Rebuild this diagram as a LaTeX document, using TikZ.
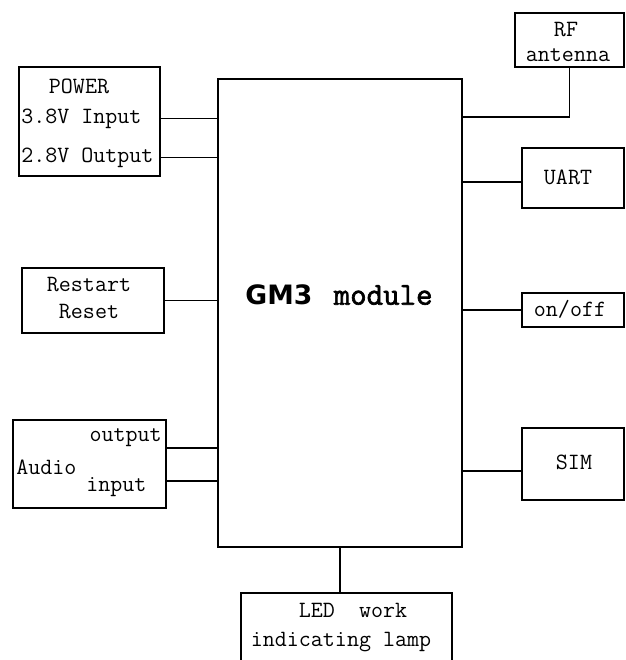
\documentclass[tikz,border=0pt]{standalone}
\usepackage{fontspec}
\newfontfamily\titlefont{DejaVu Sans}
\newfontfamily\modfont[FakeBold=2]{Latin Modern Mono}

\begin{document}
\begin{tikzpicture}[x=0.75pt,y=-0.75pt]
	\tikzstyle{block}=[draw=black,line width=1pt,rectangle,inner sep=0pt]
	\tikzstyle{txt}=[inner sep=0pt,font=\ttfamily\fontsize{17.5}{17.5}\selectfont]
	\tikzstyle{wire}=[line width=1pt]
	\useasboundingbox (0,0) rectangle (625,660);
	% blocks
	\node[block,minimum width=183pt,minimum height=351pt](gm3) at (340,313) {};
	\node[block,minimum width=105.75pt,minimum height=81.75pt](power) at (89.5,121.5) {};
	\node[block,minimum width=81.75pt,minimum height=40.5pt](rf) at (569.5,40) {};
	\node[block,minimum width=76.5pt,minimum height=45pt](uart) at (573,178) {};
	\node[block,minimum width=106.5pt,minimum height=48.75pt](reset) at (93,300.5) {};
	\node[block,minimum width=76.5pt,minimum height=25.5pt](onoff) at (573,310) {};
	\node[block,minimum width=76.5pt,minimum height=54pt](sim) at (573,464) {};
	\node[block,minimum width=114.75pt,minimum height=66pt](audio) at (89.5,464) {};
	\node[block,minimum width=158.25pt,minimum height=56.25pt](led) at (346.5,630.5) {};
	% texts
	\node[inner sep=0pt](title) at (339,295) {\titlefont\bfseries\fontsize{20}{20}\selectfont GM3\hspace{16pt}\modfont\mdseries\fontsize{24}{24}\selectfont module};
	\node[txt](pwr) at (79,86) {POWER};
	\node[txt,anchor=west](in38) at (21,118.5) {3.8V Input};
	\node[txt,anchor=west](out28) at (21,157.5) {2.8V Output};
	\node[txt](rf1) at (566,30) {RF};
	\node[txt](rf2) at (568,55) {antenna};
	\node[txt](uart1) at (568,177) {UART};
	\node[txt](rst1) at (89,285) {Restart};
	\node[txt](rst2) at (89,312) {Reset};
	\node[txt](onoff1) at (570,309) {on/off};
	\node[txt](sim1) at (574,462) {SIM};
	\node[txt,anchor=east](aud1) at (162,438) {output};
	\node[txt,anchor=west](aud2) at (16,467) {Audio};
	\node[txt,anchor=west](aud3) at (86,487) {input};
	\node[txt](led1) at (353,610) {LED\ \ work};
	\node[txt](led2) at (341,642) {indicating lamp};
	% pins
	\coordinate (rfpin) at (462,117);
	\coordinate (aout) at (166,448);
	\coordinate (ain) at (166,481);
	\path ([yshift=-3pt]uart.west) coordinate (uartpin);
	\path ([yshift=-5.25pt]sim.west) coordinate (simpin);
	% wires
	\draw[wire](power.east |- in38) -- (gm3.west |- in38);
	\draw[wire](power.east |- out28) -- (gm3.west |- out28);
	\draw[wire](reset.east) -- (gm3.west |- reset.east);
	\draw[wire](aout) -- (gm3.west |- aout);
	\draw[wire](ain) -- (gm3.west |- ain);
	\draw[wire](rf.south) |- (rfpin);
	\draw[wire](uartpin) -- (gm3.east |- uartpin);
	\draw[wire](onoff.west) -- (gm3.east |- onoff.west);
	\draw[wire](simpin) -- (gm3.east |- simpin);
	\draw[wire](gm3.south) -- (gm3.south |- led.north);
\end{tikzpicture}
\end{document}
